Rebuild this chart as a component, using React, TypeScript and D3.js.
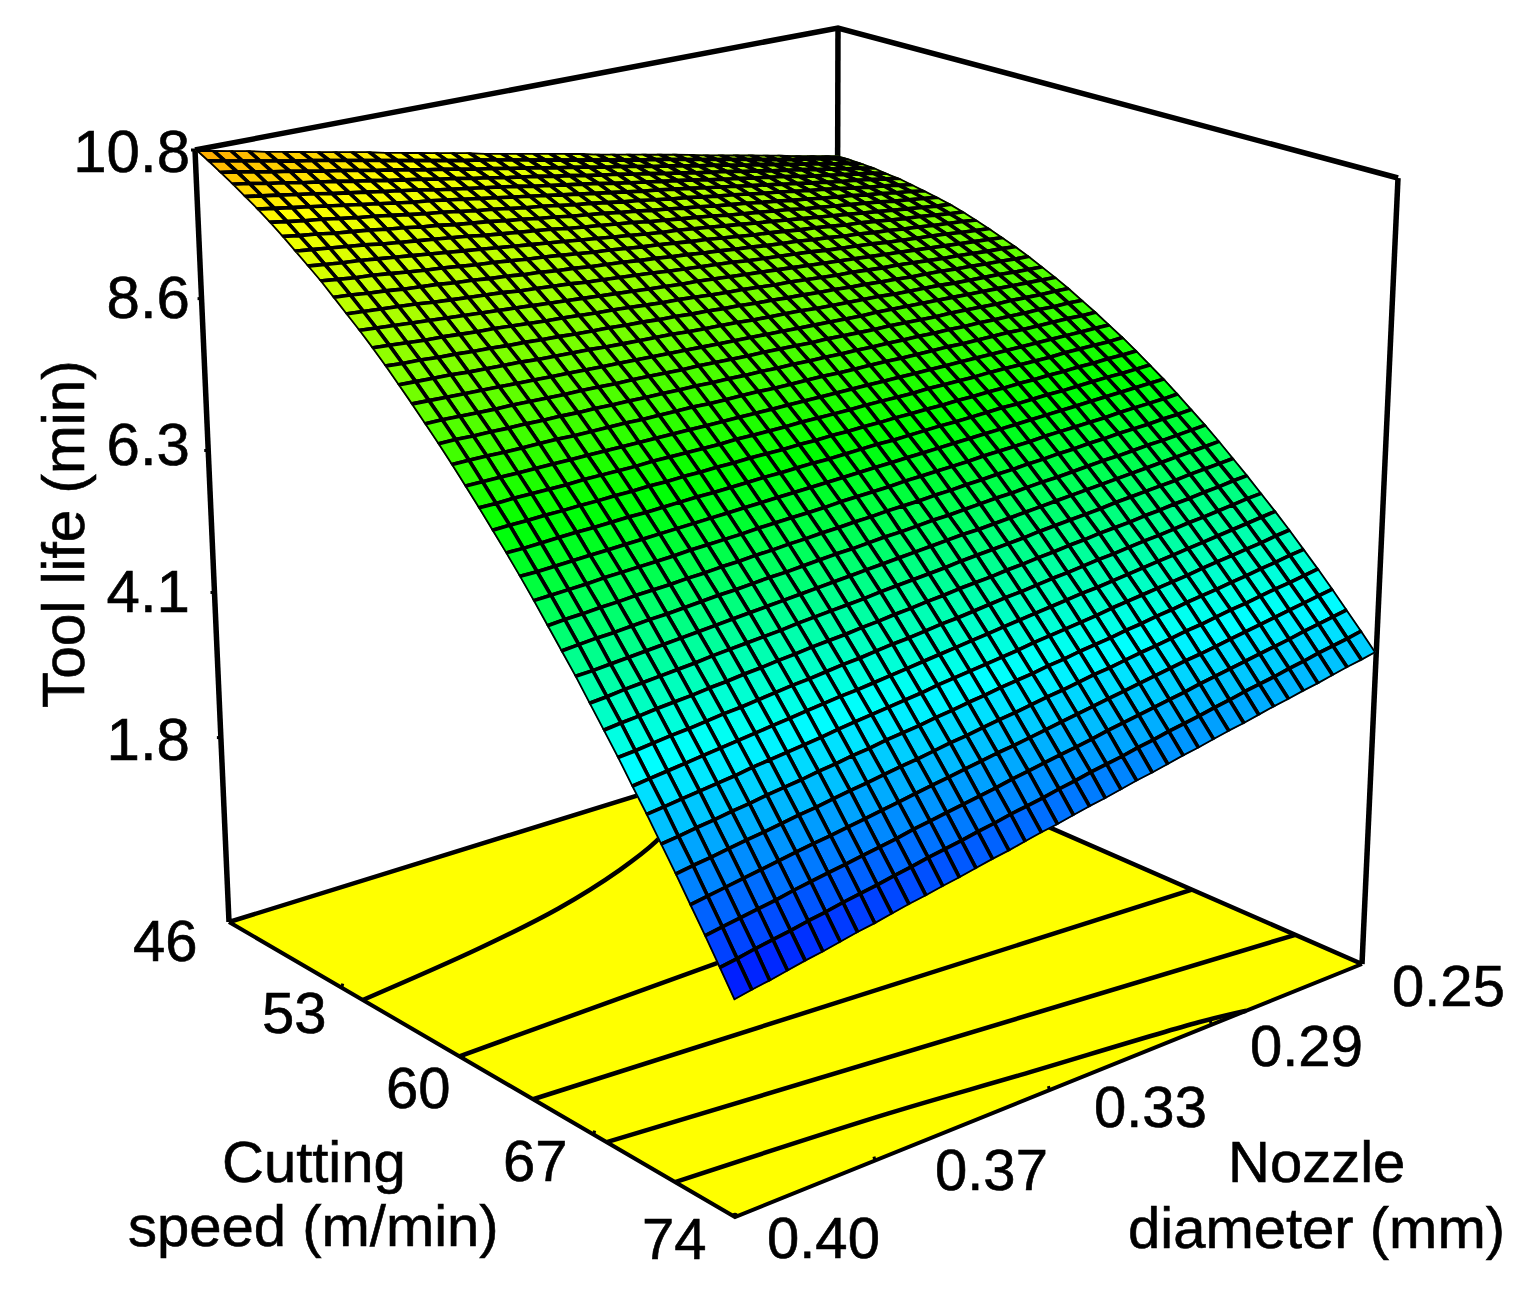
import React from 'react';
import * as d3 from 'd3';

const speedTicks = [46, 53, 60, 67, 74];
const nozzleTicks = [0.4, 0.37, 0.33, 0.29, 0.25];
const lifeTicks = [1.8, 4.1, 6.3, 8.6, 10.8];

// tool life: rows go 46 -> 74 m/min, columns go 0.40 -> 0.25 mm
const lifeGrid: number[][] = [
  [10.80,10.75,10.70,10.65,10.59,10.54,10.49,10.44,10.39,10.34,10.29,10.23,10.18,10.13,10.08,10.03,9.98,9.92,9.87,9.82,9.77,9.72,9.67,9.62,9.56,9.51,9.46,9.41,9.36,9.31,9.26,9.20,9.15,9.10,9.05,9.00,8.95,8.89,8.84,8.79,8.74],
  [10.70,10.65,10.60,10.55,10.50,10.45,10.41,10.36,10.31,10.26,10.21,10.16,10.11,10.06,10.01,9.96,9.92,9.87,9.82,9.77,9.72,9.67,9.62,9.57,9.52,9.47,9.42,9.38,9.33,9.28,9.23,9.18,9.13,9.08,9.03,8.98,8.93,8.89,8.84,8.79,8.74],
  [10.59,10.55,10.50,10.45,10.41,10.36,10.31,10.27,10.22,10.17,10.13,10.08,10.03,9.99,9.94,9.89,9.85,9.80,9.76,9.71,9.66,9.62,9.57,9.52,9.48,9.43,9.38,9.34,9.29,9.24,9.20,9.15,9.10,9.06,9.01,8.96,8.92,8.87,8.82,8.78,8.73],
  [10.48,10.44,10.39,10.35,10.30,10.26,10.22,10.17,10.13,10.08,10.04,10.00,9.95,9.91,9.86,9.82,9.77,9.73,9.69,9.64,9.60,9.55,9.51,9.47,9.42,9.38,9.33,9.29,9.24,9.20,9.16,9.11,9.07,9.02,8.98,8.94,8.89,8.85,8.80,8.76,8.72],
  [10.36,10.32,10.28,10.24,10.20,10.15,10.11,10.07,10.03,9.99,9.95,9.90,9.86,9.82,9.78,9.74,9.70,9.65,9.61,9.57,9.53,9.49,9.44,9.40,9.36,9.32,9.28,9.24,9.19,9.15,9.11,9.07,9.03,8.99,8.94,8.90,8.86,8.82,8.78,8.74,8.69],
  [10.24,10.20,10.16,10.12,10.08,10.04,10.00,9.96,9.92,9.88,9.85,9.81,9.77,9.73,9.69,9.65,9.61,9.57,9.53,9.49,9.45,9.41,9.37,9.33,9.30,9.26,9.22,9.18,9.14,9.10,9.06,9.02,8.98,8.94,8.90,8.86,8.82,8.79,8.75,8.71,8.67],
  [10.11,10.07,10.03,10.00,9.96,9.92,9.89,9.85,9.81,9.77,9.74,9.70,9.66,9.63,9.59,9.55,9.52,9.48,9.44,9.41,9.37,9.33,9.30,9.26,9.22,9.19,9.15,9.11,9.08,9.04,9.00,8.97,8.93,8.89,8.86,8.82,8.78,8.74,8.71,8.67,8.63],
  [9.97,9.93,9.90,9.86,9.83,9.80,9.76,9.73,9.69,9.66,9.62,9.59,9.56,9.52,9.49,9.45,9.42,9.38,9.35,9.32,9.28,9.25,9.21,9.18,9.14,9.11,9.07,9.04,9.01,8.97,8.94,8.90,8.87,8.83,8.80,8.77,8.73,8.70,8.66,8.63,8.59],
  [9.82,9.79,9.76,9.73,9.70,9.66,9.63,9.60,9.57,9.54,9.51,9.47,9.44,9.41,9.38,9.35,9.31,9.28,9.25,9.22,9.19,9.15,9.12,9.09,9.06,9.03,8.99,8.96,8.93,8.90,8.87,8.83,8.80,8.77,8.74,8.71,8.68,8.64,8.61,8.58,8.55],
  [9.67,9.64,9.61,9.59,9.56,9.53,9.50,9.47,9.44,9.41,9.38,9.35,9.32,9.29,9.26,9.23,9.20,9.17,9.14,9.11,9.08,9.05,9.03,9.00,8.97,8.94,8.91,8.88,8.85,8.82,8.79,8.76,8.73,8.70,8.67,8.64,8.61,8.58,8.55,8.52,8.50],
  [9.52,9.49,9.46,9.44,9.41,9.38,9.35,9.33,9.30,9.27,9.25,9.22,9.19,9.17,9.14,9.11,9.08,9.06,9.03,9.00,8.98,8.95,8.92,8.90,8.87,8.84,8.81,8.79,8.76,8.73,8.71,8.68,8.65,8.63,8.60,8.57,8.54,8.52,8.49,8.46,8.44],
  [9.35,9.33,9.30,9.28,9.25,9.23,9.21,9.18,9.16,9.13,9.11,9.08,9.06,9.03,9.01,8.98,8.96,8.94,8.91,8.89,8.86,8.84,8.81,8.79,8.76,8.74,8.71,8.69,8.67,8.64,8.62,8.59,8.57,8.54,8.52,8.49,8.47,8.44,8.42,8.40,8.37],
  [9.18,9.16,9.14,9.12,9.10,9.07,9.05,9.03,9.01,8.99,8.96,8.94,8.92,8.90,8.87,8.85,8.83,8.81,8.79,8.76,8.74,8.72,8.70,8.68,8.65,8.63,8.61,8.59,8.57,8.54,8.52,8.50,8.48,8.45,8.43,8.41,8.39,8.37,8.34,8.32,8.30],
  [9.01,8.99,8.97,8.95,8.93,8.91,8.89,8.87,8.85,8.83,8.81,8.79,8.77,8.75,8.73,8.71,8.69,8.67,8.65,8.63,8.62,8.60,8.58,8.56,8.54,8.52,8.50,8.48,8.46,8.44,8.42,8.40,8.38,8.36,8.34,8.32,8.30,8.28,8.26,8.24,8.22],
  [8.83,8.81,8.79,8.77,8.76,8.74,8.72,8.71,8.69,8.67,8.65,8.64,8.62,8.60,8.59,8.57,8.55,8.53,8.52,8.50,8.48,8.46,8.45,8.43,8.41,8.40,8.38,8.36,8.34,8.33,8.31,8.29,8.28,8.26,8.24,8.22,8.21,8.19,8.17,8.16,8.14],
  [8.64,8.62,8.61,8.59,8.58,8.56,8.55,8.53,8.52,8.50,8.49,8.47,8.46,8.45,8.43,8.42,8.40,8.39,8.37,8.36,8.34,8.33,8.31,8.30,8.28,8.27,8.25,8.24,8.22,8.21,8.19,8.18,8.16,8.15,8.14,8.12,8.11,8.09,8.08,8.06,8.05],
  [8.44,8.43,8.42,8.41,8.39,8.38,8.37,8.36,8.34,8.33,8.32,8.31,8.29,8.28,8.27,8.26,8.25,8.23,8.22,8.21,8.20,8.18,8.17,8.16,8.15,8.13,8.12,8.11,8.10,8.09,8.07,8.06,8.05,8.04,8.02,8.01,8.00,7.99,7.97,7.96,7.95],
  [8.24,8.23,8.22,8.21,8.20,8.19,8.18,8.17,8.16,8.15,8.14,8.13,8.12,8.11,8.10,8.09,8.08,8.07,8.06,8.05,8.04,8.03,8.02,8.01,8.00,7.99,7.98,7.97,7.97,7.96,7.95,7.94,7.93,7.92,7.91,7.90,7.89,7.88,7.87,7.86,7.85],
  [8.03,8.03,8.02,8.01,8.00,8.00,7.99,7.98,7.97,7.97,7.96,7.95,7.95,7.94,7.93,7.92,7.92,7.91,7.90,7.89,7.89,7.88,7.87,7.86,7.86,7.85,7.84,7.83,7.83,7.82,7.81,7.80,7.80,7.79,7.78,7.77,7.77,7.76,7.75,7.75,7.74],
  [7.82,7.82,7.81,7.81,7.80,7.80,7.79,7.79,7.78,7.78,7.77,7.77,7.76,7.76,7.75,7.75,7.74,7.74,7.73,7.73,7.72,7.72,7.71,7.71,7.70,7.70,7.69,7.69,7.68,7.68,7.67,7.67,7.66,7.66,7.65,7.65,7.64,7.64,7.63,7.63,7.62],
  [7.60,7.60,7.60,7.59,7.59,7.59,7.59,7.58,7.58,7.58,7.58,7.57,7.57,7.57,7.57,7.56,7.56,7.56,7.56,7.55,7.55,7.55,7.55,7.54,7.54,7.54,7.54,7.53,7.53,7.53,7.53,7.52,7.52,7.52,7.52,7.51,7.51,7.51,7.51,7.50,7.50],
  [7.37,7.37,7.37,7.37,7.37,7.37,7.37,7.37,7.37,7.37,7.37,7.37,7.37,7.37,7.37,7.37,7.37,7.37,7.37,7.37,7.37,7.37,7.37,7.37,7.37,7.37,7.37,7.37,7.37,7.37,7.37,7.37,7.37,7.37,7.37,7.37,7.37,7.37,7.37,7.37,7.37],
  [7.14,7.14,7.15,7.15,7.15,7.15,7.16,7.16,7.16,7.16,7.17,7.17,7.17,7.17,7.17,7.18,7.18,7.18,7.18,7.19,7.19,7.19,7.19,7.20,7.20,7.20,7.20,7.21,7.21,7.21,7.21,7.22,7.22,7.22,7.22,7.22,7.23,7.23,7.23,7.23,7.24],
  [6.90,6.91,6.91,6.92,6.92,6.93,6.93,6.94,6.94,6.95,6.95,6.96,6.96,6.97,6.97,6.98,6.98,6.98,6.99,6.99,7.00,7.00,7.01,7.01,7.02,7.02,7.03,7.03,7.04,7.04,7.05,7.05,7.06,7.06,7.07,7.07,7.08,7.08,7.09,7.09,7.10],
  [6.66,6.66,6.67,6.68,6.69,6.69,6.70,6.71,6.71,6.72,6.73,6.74,6.74,6.75,6.76,6.77,6.77,6.78,6.79,6.79,6.80,6.81,6.82,6.82,6.83,6.84,6.85,6.85,6.86,6.87,6.88,6.88,6.89,6.90,6.90,6.91,6.92,6.93,6.93,6.94,6.95],
  [6.41,6.41,6.42,6.43,6.44,6.45,6.46,6.47,6.48,6.49,6.50,6.51,6.52,6.53,6.54,6.55,6.56,6.57,6.58,6.59,6.60,6.61,6.62,6.63,6.64,6.65,6.66,6.67,6.68,6.69,6.70,6.71,6.72,6.73,6.74,6.75,6.76,6.77,6.78,6.79,6.80],
  [6.15,6.16,6.17,6.18,6.20,6.21,6.22,6.23,6.24,6.26,6.27,6.28,6.29,6.31,6.32,6.33,6.34,6.35,6.37,6.38,6.39,6.40,6.42,6.43,6.44,6.45,6.46,6.48,6.49,6.50,6.51,6.53,6.54,6.55,6.56,6.57,6.59,6.60,6.61,6.62,6.64],
  [5.88,5.90,5.91,5.93,5.94,5.96,5.97,5.98,6.00,6.01,6.03,6.04,6.06,6.07,6.09,6.10,6.12,6.13,6.15,6.16,6.18,6.19,6.20,6.22,6.23,6.25,6.26,6.28,6.29,6.31,6.32,6.34,6.35,6.37,6.38,6.40,6.41,6.42,6.44,6.45,6.47],
  [5.61,5.63,5.65,5.66,5.68,5.70,5.71,5.73,5.75,5.77,5.78,5.80,5.82,5.83,5.85,5.87,5.89,5.90,5.92,5.94,5.95,5.97,5.99,6.00,6.02,6.04,6.06,6.07,6.09,6.11,6.12,6.14,6.16,6.18,6.19,6.21,6.23,6.24,6.26,6.28,6.30],
  [5.34,5.35,5.37,5.39,5.41,5.43,5.45,5.47,5.49,5.51,5.53,5.55,5.57,5.59,5.61,5.63,5.65,5.67,5.69,5.71,5.73,5.75,5.77,5.79,5.80,5.82,5.84,5.86,5.88,5.90,5.92,5.94,5.96,5.98,6.00,6.02,6.04,6.06,6.08,6.10,6.12],
  [5.05,5.07,5.10,5.12,5.14,5.16,5.18,5.21,5.23,5.25,5.27,5.29,5.32,5.34,5.36,5.38,5.40,5.43,5.45,5.47,5.49,5.51,5.54,5.56,5.58,5.60,5.62,5.65,5.67,5.69,5.71,5.73,5.76,5.78,5.80,5.82,5.84,5.87,5.89,5.91,5.93],
  [4.76,4.79,4.81,4.84,4.86,4.88,4.91,4.93,4.96,4.98,5.01,5.03,5.06,5.08,5.10,5.13,5.15,5.18,5.20,5.23,5.25,5.28,5.30,5.32,5.35,5.37,5.40,5.42,5.45,5.47,5.50,5.52,5.54,5.57,5.59,5.62,5.64,5.67,5.69,5.72,5.74],
  [4.47,4.49,4.52,4.55,4.57,4.60,4.63,4.65,4.68,4.71,4.74,4.76,4.79,4.82,4.84,4.87,4.90,4.92,4.95,4.98,5.00,5.03,5.06,5.09,5.11,5.14,5.17,5.19,5.22,5.25,5.27,5.30,5.33,5.35,5.38,5.41,5.43,5.46,5.49,5.52,5.54],
  [4.16,4.19,4.22,4.25,4.28,4.31,4.34,4.37,4.40,4.43,4.46,4.49,4.52,4.54,4.57,4.60,4.63,4.66,4.69,4.72,4.75,4.78,4.81,4.84,4.87,4.90,4.93,4.96,4.98,5.01,5.04,5.07,5.10,5.13,5.16,5.19,5.22,5.25,5.28,5.31,5.34],
  [3.86,3.89,3.92,3.95,3.98,4.01,4.05,4.08,4.11,4.14,4.17,4.21,4.24,4.27,4.30,4.33,4.36,4.40,4.43,4.46,4.49,4.52,4.55,4.59,4.62,4.65,4.68,4.71,4.75,4.78,4.81,4.84,4.87,4.90,4.94,4.97,5.00,5.03,5.06,5.10,5.13],
  [3.54,3.57,3.61,3.64,3.68,3.71,3.75,3.78,3.81,3.85,3.88,3.92,3.95,3.99,4.02,4.05,4.09,4.12,4.16,4.19,4.23,4.26,4.29,4.33,4.36,4.40,4.43,4.46,4.50,4.53,4.57,4.60,4.64,4.67,4.70,4.74,4.77,4.81,4.84,4.88,4.91],
  [3.22,3.26,3.29,3.33,3.37,3.40,3.44,3.48,3.51,3.55,3.59,3.62,3.66,3.70,3.73,3.77,3.81,3.84,3.88,3.92,3.95,3.99,4.03,4.06,4.10,4.14,4.17,4.21,4.25,4.28,4.32,4.36,4.39,4.43,4.47,4.50,4.54,4.58,4.61,4.65,4.69],
  [2.89,2.93,2.97,3.01,3.05,3.09,3.13,3.17,3.20,3.24,3.28,3.32,3.36,3.40,3.44,3.48,3.52,3.56,3.60,3.63,3.67,3.71,3.75,3.79,3.83,3.87,3.91,3.95,3.99,4.03,4.07,4.10,4.14,4.18,4.22,4.26,4.30,4.34,4.38,4.42,4.46],
  [2.56,2.60,2.64,2.68,2.72,2.77,2.81,2.85,2.89,2.93,2.97,3.01,3.06,3.10,3.14,3.18,3.22,3.26,3.31,3.35,3.39,3.43,3.47,3.51,3.56,3.60,3.64,3.68,3.72,3.76,3.81,3.85,3.89,3.93,3.97,4.01,4.05,4.10,4.14,4.18,4.22],
  [2.22,2.26,2.31,2.35,2.39,2.44,2.48,2.53,2.57,2.61,2.66,2.70,2.75,2.79,2.83,2.88,2.92,2.97,3.01,3.05,3.10,3.14,3.19,3.23,3.27,3.32,3.36,3.41,3.45,3.49,3.54,3.58,3.63,3.67,3.71,3.76,3.80,3.85,3.89,3.93,3.98],
  [1.87,1.92,1.96,2.01,2.06,2.10,2.15,2.20,2.24,2.29,2.34,2.38,2.43,2.47,2.52,2.57,2.61,2.66,2.71,2.75,2.80,2.85,2.89,2.94,2.99,3.03,3.08,3.13,3.17,3.22,3.27,3.31,3.36,3.41,3.45,3.50,3.54,3.59,3.64,3.68,3.73],
];

// contour lines on the floor, as [speed, nozzle]
const contours: [number, number][][] = [
  [[54.25, 0.4], [53.39, 0.371], [52.45, 0.349], [51.15, 0.329], [49.94, 0.315], [48.86, 0.306]],
  [[59.8, 0.4], [59.54, 0.321]],
  [[63.82, 0.4], [65.74, 0.25]],
  [[67.67, 0.4], [70.84, 0.25]],
  [[71.1, 0.4], [71.88, 0.357], [72.6, 0.33], [73.59, 0.291], [74, 0.281]],
];

type P = [number, number];

// unit square to a four sided shape on screen
const quad = (a: P, b: P, c: P, d: P) => {
  const dx1 = b[0] - c[0], dx2 = d[0] - c[0], sx = a[0] - b[0] + c[0] - d[0];
  const dy1 = b[1] - c[1], dy2 = d[1] - c[1], sy = a[1] - b[1] + c[1] - d[1];
  const det = dx1 * dy2 - dx2 * dy1;
  const g = (sx * dy2 - dx2 * sy) / det;
  const h = (dx1 * sy - sx * dy1) / det;
  return (u: number, v: number): P => {
    const w = g * u + h * v + 1;
    return [
      ((b[0] - a[0] + g * b[0]) * u + (d[0] - a[0] + h * d[0]) * v + a[0]) / w,
      ((b[1] - a[1] + g * b[1]) * u + (d[1] - a[1] + h * d[1]) * v + a[1]) / w,
    ];
  };
};

const floor = quad([229, 922], [735, 1217], [1362, 964], [836, 734]);
const roof = quad([195, 150], [731, 332], [1398, 178], [838, 28]);

const uScale = d3.scaleLinear().domain([46, 74]).range([0, 1]);
const vScale = d3.scaleLinear().domain([0.4, 0.25]).range([0, 1]);
const wScale = d3.scaleLinear().domain([-1.2, 10.8]).range([0, 1]);

const K = -0.0585; // foreshortening up the vertical edges
const project = (u: number, v: number, w: number): P => {
  const f = floor(u, v), r = roof(u, v);
  const t = (w * (1 + K)) / (1 + K * w);
  return [f[0] + (r[0] - f[0]) * t, f[1] + (r[1] - f[1]) * t];
};

const color = d3.scaleLinear<string>()
  .domain([1.75, 4.35, 6.9, 10.1, 12.1])
  .range(['#0000ff', '#00ffff', '#00ff00', '#ffff00', '#ff0000'])
  .clamp(true);

const App = () => {
  const line = d3.line<P>();
  const smooth = d3.line<P>().curve(d3.curveCatmullRom);
  const n = lifeGrid.length - 1;
  const node = (i: number, j: number) => project(i / n, j / n, wScale(lifeGrid[i][j]));

  // far cells first so the nearer ones paint over them
  const cells: React.ReactNode[] = [];
  for (let i = 0; i < n; i++) {
    for (let j = n - 1; j >= 0; j--) {
      const poly = [node(i, j), node(i + 1, j), node(i + 1, j + 1), node(i, j + 1)];
      const mean = (lifeGrid[i][j] + lifeGrid[i + 1][j] + lifeGrid[i + 1][j + 1] + lifeGrid[i][j + 1]) / 4;
      cells.push(<path key={`${i}-${j}`} d={line(poly) + 'Z'} fill={color(mean)} stroke="#000" strokeWidth={3.6} strokeLinejoin="round" />);
    }
  }
  const idx = d3.range(n + 1);
  const outline = [
    ...idx.map(i => node(i, 0)),
    ...idx.map(j => node(n, j)),
    ...idx.slice().reverse().map(i => node(i, n)),
    ...idx.slice().reverse().map(j => node(0, j)),
  ];

  const A = project(0, 0, 0), B = project(1, 0, 0), C = project(1, 1, 0), D = project(0, 1, 0);
  const At = project(0, 0, 1), Ct = project(1, 1, 1), Dt = project(0, 1, 1);
  const font = { fontFamily: '"Liberation Sans", Arial, sans-serif', fontSize: 58, fill: '#000', stroke: '#000', strokeWidth: 0.6 };

  return (
    <svg width={1539} height={1313} style={{ position: 'absolute', left: 0, top: 0 }}>
      <defs>
        <clipPath id="surface-clip"><path d={line(outline) + 'Z'} /></clipPath>
      </defs>
      <rect width={1539} height={1313} fill="#fff" />
      <path d={line([A, B, C, D]) + 'Z'} fill="#ffff00" />
      <g fill="none" stroke="#000" strokeWidth={5.5}>
        {contours.map((c, i) => (
          <path key={i} strokeWidth={4.5} d={smooth(c.map(p => project(uScale(p[0]), vScale(p[1]), 0))) as string} />
        ))}
        <path d={line([At, Dt, Ct]) as string} />
        <path d={line([A, At]) as string} />
        <path d={line([C, Ct]) as string} />
        <path d={line([D, Dt]) as string} />
        <path d={line([A, D, C]) as string} strokeWidth={4.5} />
        <path d={line([A, B, C]) as string} strokeWidth={4} />
      </g>
      <g clipPath="url(#surface-clip)">{cells}</g>
      <g stroke="#000" strokeWidth={3}>
        {speedTicks.map(s => { const p = project(uScale(s), 0, 0); return <line key={s} x1={p[0]} y1={p[1]} x2={p[0] + 1} y2={p[1] - 4} />; })}
        {nozzleTicks.map(s => { const p = project(1, vScale(s), 0); return <line key={s} x1={p[0]} y1={p[1]} x2={p[0] - 1} y2={p[1] - 4} />; })}
        {lifeTicks.map(s => { const p = project(0, 0, wScale(s)); return <line key={s} x1={p[0]} y1={p[1]} x2={p[0] - 4} y2={p[1]} />; })}
      </g>
      <g {...font}>
        {lifeTicks.map((t, i) => <text key={t} x={190} y={[760, 612, 465, 318, 172][i]} textAnchor="end" fontSize={60}>{t.toFixed(1)}</text>)}
        {speedTicks.map((t, i) => <text key={t} x={[133, 262, 386, 503, 642][i]} y={[961, 1033, 1108, 1181, 1259][i]}>{t}</text>)}
        {nozzleTicks.map((t, i) => <text key={t} x={[767, 935, 1094, 1250, 1392][i]} y={[1258, 1190, 1127, 1066, 1006][i]}>{d3.format('.2f')(t)}</text>)}
        <text x={222} y={1182}>Cutting</text>
        <text x={128} y={1246}>speed (m/min)</text>
        <text x={1228} y={1182}>Nozzle</text>
        <text x={1128} y={1248}>diameter (mm)</text>
        <text transform="translate(84,708) rotate(-90)" fontSize={58.5}>Tool life (min)</text>
      </g>
    </svg>
  );
};

export default App;
